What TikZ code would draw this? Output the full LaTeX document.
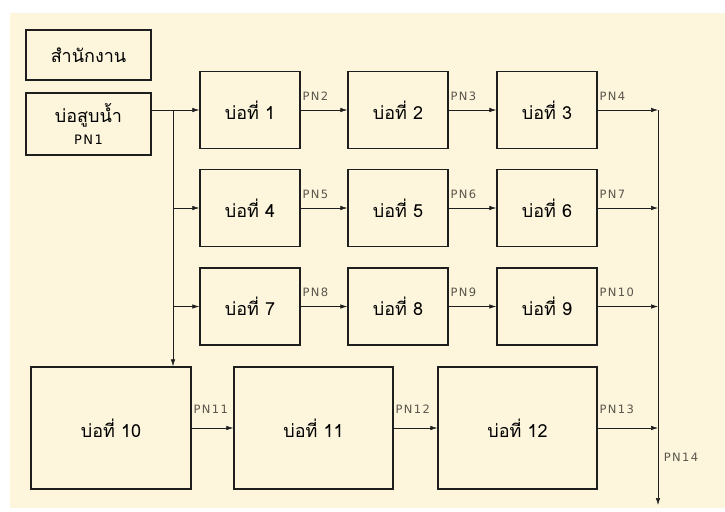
\documentclass[tikz,border=0pt]{standalone}
\usepackage{fontspec}
\setmainfont{DejaVu Sans}
\newfontfamily\thaifont[Script=Thai]{Loma}
\newfontfamily\pnfont[LetterSpace=12]{DejaVu Sans}
\usepackage{tikz}
\usetikzlibrary{arrows.meta, positioning}
\definecolor{pondBg}{RGB}{253,246,220}
\definecolor{pondLn}{RGB}{30,30,30}
\definecolor{pnTxt}{RGB}{90,85,75}
\tikzset{
  pond/.style={draw=pondLn, line width=1.5pt, inner sep=0pt, align=center,
    font=\thaifont\fontsize{18}{22}\selectfont},
  smallpond/.style={pond, minimum width=100pt, minimum height=77pt},
  bigpond/.style={pond, minimum width=159pt, minimum height=122pt},
  flow/.style={draw=pondLn, line width=0.6pt, -{Latex[length=7pt,width=4.5pt]}},
  pn/.style={font=\pnfont\fontsize{11.5}{13}\selectfont, text=pnTxt, inner sep=1.5pt,
    pos=0, anchor=south west, yshift=8pt}
}

\begin{document}
\begin{tikzpicture}[x=1pt, y=-1pt]
\useasboundingbox (0,0) rectangle (725,511);
\fill[pondBg] (10,13) rectangle (725,508);
% office and pumping station
\node[pond, minimum width=125pt, minimum height=50pt] (office) at (88.5,55) {สำนักงาน};
\node[pond, minimum width=125pt, minimum height=62pt] (pump) at (88.5,124) {บ่อสูบน้ำ\\{\pnfont\fontsize{13}{15}\selectfont PN1}};
% ponds 1-9
\node[smallpond] (p1) at (250,110) {บ่อที่ 1};
\node[smallpond] (p2) at (398,110) {บ่อที่ 2};
\node[smallpond] (p3) at (547,110) {บ่อที่ 3};
\node[smallpond] (p4) at (250,208) {บ่อที่ 4};
\node[smallpond] (p5) at (398,208) {บ่อที่ 5};
\node[smallpond] (p6) at (547,208) {บ่อที่ 6};
\node[smallpond] (p7) at (250,306.5) {บ่อที่ 7};
\node[smallpond] (p8) at (398,306.5) {บ่อที่ 8};
\node[smallpond] (p9) at (547,306.5) {บ่อที่ 9};
% ponds 10-12
\node[bigpond, minimum width=160pt] (p10) at (111,428) {บ่อที่ 10};
\node[bigpond] (p11) at (313.5,428) {บ่อที่ 11};
\node[bigpond] (p12) at (517.5,428) {บ่อที่ 12};
% feed line
\coordinate (split) at (173,110);
\coordinate (merge) at (658,110);
\coordinate (outlet) at (658,505);
\draw[flow] (pump.east |- p1.west) -- (p1.west);
\draw[flow] (split) -- (split |- p10.north);
\draw[flow] (split |- p4.west) -- (p4.west);
\draw[flow] (split |- p7.west) -- (p7.west);
% pond to pond
\draw[flow] (p1) -- node[pn] {PN2} (p2);
\draw[flow] (p2) -- node[pn] {PN3} (p3);
\draw[flow] (p4) -- node[pn] {PN5} (p5);
\draw[flow] (p5) -- node[pn] {PN6} (p6);
\draw[flow] (p7) -- node[pn] {PN8} (p8);
\draw[flow] (p8) -- node[pn] {PN9} (p9);
\draw[flow] (p10) -- node[pn, yshift=5pt] {PN11} (p11);
\draw[flow] (p11) -- node[pn, yshift=5pt] {PN12} (p12);
% drain line
\draw[flow] (p3.east) -- node[pn] {PN4} (merge);
\draw[flow] (p6.east) -- node[pn] {PN7} (merge |- p6.east);
\draw[flow] (p9.east) -- node[pn] {PN10} (merge |- p9.east);
\draw[flow] (p12.east) -- node[pn, yshift=5pt] {PN13} (merge |- p12.east);
\draw[flow] (merge) -- node[pn, pos=0.88, anchor=west, xshift=4pt, yshift=-8pt] {PN14} (outlet);
\end{tikzpicture}
\end{document}
